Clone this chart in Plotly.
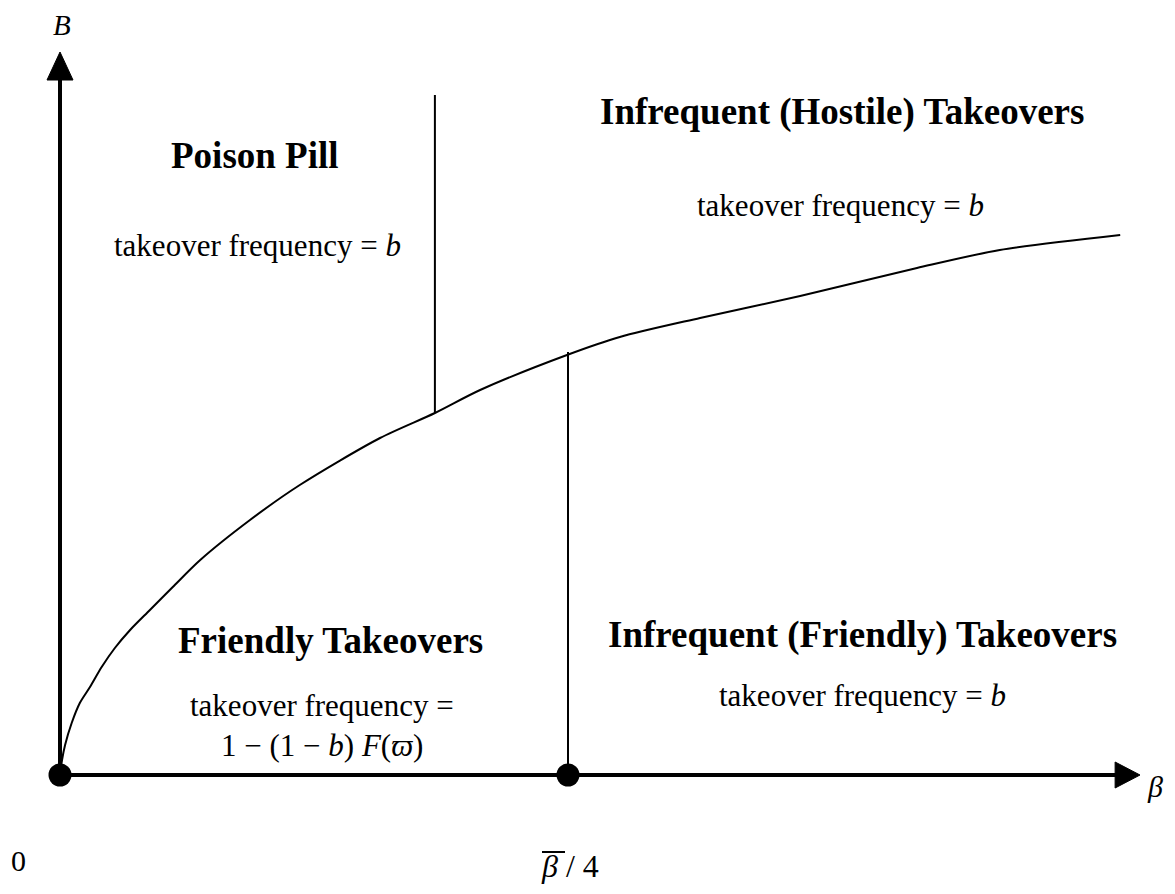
import plotly.graph_objects as go

# Curve: boundary B(beta) (data units: beta_bar/4 = 1)
curve_x = [0, 0.004, 0.01, 0.023, 0.039, 0.059, 0.082, 0.108, 0.138, 0.177, 0.222, 0.276,
           0.374, 0.472, 0.63, 0.738, 0.827, 0.998, 1.102, 1.26, 1.457, 1.687, 1.85, 2.087]
curve_y = [0, 0.03, 0.06, 0.104, 0.144, 0.176, 0.216, 0.254, 0.29, 0.33, 0.376, 0.43,
           0.51, 0.58, 0.674, 0.724, 0.77, 0.84, 0.876, 0.914, 0.958, 1.014, 1.05, 1.08]

# Vertical boundaries
poison_x = [0.738, 0.738]
poison_y = [0.724, 1.36]
bbar_x = [1.0, 1.0]
bbar_y = [0.0, 0.846]

# Points on the beta axis
dot_x = [0, 1.0]
dot_y = [0, 0]

SERIF = "Liberation Serif, Times New Roman, serif"

# page offset (browser body margin)
OFF = 8
W, H = 1175 - 2 * OFF, 894 - 2 * OFF

def px_x(p):
    return (p - 60) / 508.0

def px_y(p):
    return (775 - p) / 500.0

fig = go.Figure()

fig.add_trace(go.Scatter(x=curve_x, y=curve_y, mode="lines",
                         line=dict(color="black", width=2, shape="spline", smoothing=0.8),
                         hoverinfo="skip"))
fig.add_trace(go.Scatter(x=poison_x, y=poison_y, mode="lines",
                         line=dict(color="black", width=2), hoverinfo="skip"))
fig.add_trace(go.Scatter(x=bbar_x, y=bbar_y, mode="lines",
                         line=dict(color="black", width=2), hoverinfo="skip"))

shapes = [
    dict(type="line", x0=0, y0=0, x1=0, y1=1.40, line=dict(color="black", width=4)),
    dict(type="line", x0=0, y0=0, x1=2.09, y1=0, line=dict(color="black", width=4)),
    dict(type="path", path="M -0.0256,1.39 L 0,1.446 L 0.0256,1.39 Z",
         fillcolor="black", line=dict(color="black", width=1)),
    dict(type="path", path="M 2.077,-0.026 L 2.126,0 L 2.077,0.026 Z",
         fillcolor="black", line=dict(color="black", width=1)),
    # overline on beta-bar
    dict(type="line", x0=px_x(542), y0=px_y(852), x1=px_x(565), y1=px_y(852),
         line=dict(color="black", width=2)),
]

fig.add_trace(go.Scatter(x=dot_x, y=dot_y, mode="markers",
                         marker=dict(color="black", size=23), hoverinfo="skip"))

ann = []
def txt(text, x, y, size, bold=False):
    if bold:
        text = "<b>" + text + "</b>"
    ann.append(dict(text=text, x=px_x(x), y=px_y(y), xref="x", yref="y",
                    showarrow=False, font=dict(family=SERIF, size=size, color="black"),
                    xanchor="center", yanchor="middle"))

BOLD = 37
REG = 31
freq_b = "takeover frequency = <i>b</i>"
txt("Poison Pill", 255, 155, BOLD, True)
txt(freq_b, 257, 245, REG)
txt("Infrequent (Hostile) Takeovers", 842, 112, BOLD, True)
txt(freq_b, 840, 205, REG)
txt("Friendly Takeovers", 330, 640, BOLD, True)
txt("takeover frequency =", 322, 705, REG)
txt("1 − (1 − <i>b</i>) <i>F</i>(<i>ϖ</i>)", 322, 745, REG)
txt("Infrequent (Friendly) Takeovers", 862, 635, BOLD, True)
txt(freq_b, 862, 695, REG)
txt("<i>B</i>", 62, 25, 29)
txt("<i>β</i>", 1155, 786, 30)
txt("0", 18, 860, 30)
txt("<i>β</i> / 4", 570, 866, 32)

fig.update_layout(
    width=W, height=H,
    margin=dict(l=0, r=0, t=0, b=0),
    plot_bgcolor="white", paper_bgcolor="white",
    showlegend=False,
    xaxis=dict(range=[px_x(OFF), px_x(OFF + W)], visible=False, fixedrange=True),
    yaxis=dict(range=[px_y(OFF + H), px_y(OFF)], visible=False, fixedrange=True),
    shapes=shapes,
    annotations=ann,
)

fig.write_html("out.html")
